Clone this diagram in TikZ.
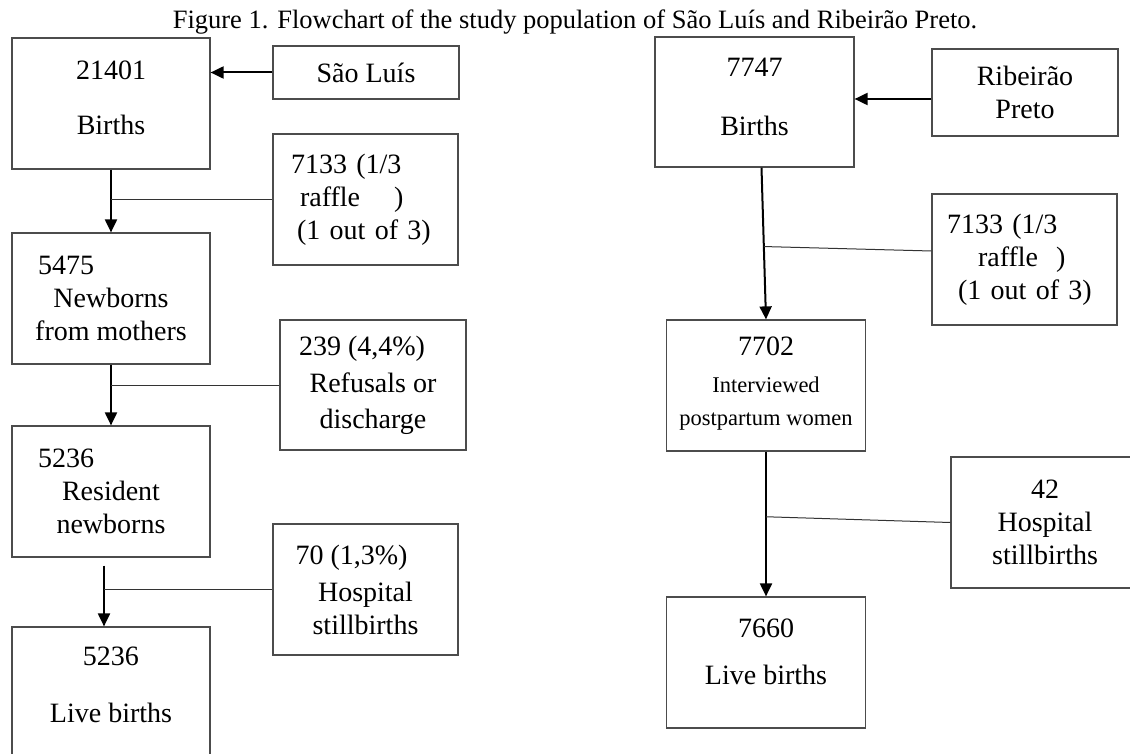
\documentclass[tikz,border=0pt]{standalone}
\usepackage{fontspec}
\setmainfont{Liberation Serif}
\usetikzlibrary{arrows.meta}

\begin{document}
\begin{tikzpicture}[x=1pt,y=-1pt,
    box/.style={draw=black!70,line width=1.2pt,minimum width=198pt,minimum height=131pt,
      inner sep=0pt,align=center,font=\fontsize{28}{33}\selectfont},
    sidebox/.style={box,minimum width=185pt},
    flow/.style={line width=2pt,-{Triangle[length=13pt,width=12pt]}},
    branch/.style={draw=black!80,line width=1pt}]
\useasboundingbox (0,0) rectangle (1130,754);
\node (title) at (575,22) {\fontsize{26.5}{30}\selectfont Figure 1. Flowchart of the study population of São Luís and Ribeirão Preto.};
% Sao Luis
\node[box,text depth=12pt] (births1) at (111,103.5) {21401\\[22pt]Births};
\node[sidebox,minimum width=186pt,minimum height=53pt] (saoluis) at (366,72.5) {São Luís};
\node[sidebox,align=left,text width=149pt] (raffle1) at (365.5,199.5)
  {7133 (1/3\\\hspace*{9pt}raffle\hspace{34pt})\\\hspace*{6pt}(1 out of 3)};
\node[box] (newborns) at (111,298.5) {5475\hspace*{90pt}\\Newborns\\from mothers};
\node[sidebox,minimum width=186pt,minimum height=130pt] (refusals) at (373,385)
  {239 (4,4\%)\hspace*{22pt}\\[4pt]Refusals or\\[3pt]discharge};
\node[box] (resident) at (111,491.5) {5236\hspace*{90pt}\\Resident\\newborns};
\node[sidebox] (still1) at (365.5,589.5) {70 (1,3\%)\hspace*{28pt}\\[4pt]Hospital\\stillbirths};
\node[box,minimum height=140pt,text depth=24pt] (live1) at (111,697) {5236\\[24pt]Live births};
\draw[flow] (saoluis.west) -- (births1.east |- saoluis.west);
\draw[flow] (births1.south) -- (newborns.north);
\draw[branch] (raffle1.west) -- (raffle1.west -| births1.south);
\draw[flow] (newborns.south) -- (resident.north);
\draw[branch] (refusals.west) -- (refusals.west -| newborns.south);
\draw[flow] ([xshift=-7pt,yshift=-8pt]resident.south) -- ([xshift=-7pt]live1.north);
\draw[branch] (still1.west) -- ([xshift=-7pt]still1.west -| live1.north);
% Ribeirao Preto
\node[box,minimum width=199pt,minimum height=130pt,text depth=10pt] (births2) at (754.5,102) {7747\\[26pt]Births};
\node[sidebox,minimum width=186pt,minimum height=87pt] (ribeirao) at (1025,92.5) {Ribeirão\\Preto};
\node[sidebox,align=left,text width=155pt] (raffle2) at (1024.5,259.5)
  {7133 (1/3\\\hspace*{31pt}raffle\hspace{18pt})\\\hspace*{11pt}(1 out of 3)};
\node[box,minimum width=199pt,text depth=8pt] (interviewed) at (766,385.5)
  {7702\\[4pt]{\fontsize{22.5}{29}\selectfont Interviewed}\\{\fontsize{22.5}{29}\selectfont postpartum women}};
\node[sidebox,minimum width=188pt] (still2) at (1045,522.5) {42\\Hospital\\stillbirths};
\node[box,minimum width=199pt,text depth=22pt] (live2) at (766,662.5) {7660\\[14pt]Live births};
\draw[flow] ([yshift=-6.5pt]ribeirao.west) -- ([yshift=-6.5pt]births2.east |- ribeirao.west);
\draw[flow] ([xshift=7pt]births2.south) -- coordinate[pos=0.52] (split1) (interviewed.north);
\draw[branch] (split1) -- ([yshift=8.5pt]raffle2.west);
\draw[flow] (interviewed.south) -- coordinate[pos=0.45] (split2) (live2.north);
\draw[branch] (split2) -- (still2.west);
\end{tikzpicture}
\end{document}
